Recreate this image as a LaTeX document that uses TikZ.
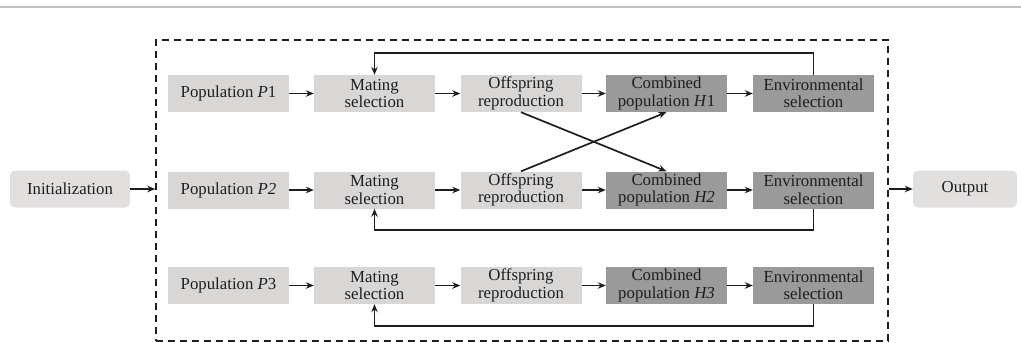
\documentclass[tikz,border=0pt]{standalone}
\usepackage{fontspec}
\setmainfont{Liberation Serif}
\usepackage{tikz}
\usetikzlibrary{arrows.meta,positioning}
\definecolor{boxlight}{RGB}{217,214,214}
\definecolor{boxdark}{RGB}{154,154,154}
\definecolor{boxend}{RGB}{226,223,223}
\definecolor{rulegray}{RGB}{192,192,192}
\definecolor{inkgray}{RGB}{30,30,30}

\begin{document}
\begin{tikzpicture}[
  x=1pt,y=-1pt,
  every node/.style={font=\fontsize{16.8}{17.5}\selectfont,text=inkgray},
  stage/.style={fill=boxlight,minimum width=121pt,minimum height=37pt,inner sep=0pt,align=center},
  merged/.style={stage,fill=boxdark},
  ends/.style={fill=boxend,rounded corners=5pt,minimum width=120pt,minimum height=37pt,inner sep=0pt},
  frame/.style={draw=inkgray,line width=1.5pt,dash pattern=on 7pt off 5pt,minimum width=732pt,minimum height=301pt,inner sep=0pt},
  arr/.style={-{Stealth[length=8pt,width=6.5pt]},line width=1.7pt,draw=inkgray}
]
\useasboundingbox (0,0) rectangle (1021,343);
\draw[rulegray,line width=1.5pt] (0,7) -- (1021,7);

\node[frame] (loop) at (522,190.5) {};
\node[ends] (init) at (70,189) {Initialization};
\node[ends,minimum width=104pt] (out) at (965,189) {Output};

% population 1
\node[stage] (p1) at (228.5,93.5) {Population \textit{P}1};
\node[stage] (ms1) at (374.5,93.5) {Mating\\selection};
\node[stage] (or1) at (521,93.5) {Offspring\\reproduction};
\node[merged] (cp1) at (666.5,93.5) {Combined\\population \textit{H}1};
\node[merged] (es1) at (813.5,93.5) {Environmental\\selection};

% population 2
\node[stage] (p2) at (228.5,190) {Population \textit{P2}};
\node[stage] (ms2) at (374.5,190) {Mating\\selection};
\node[stage] (or2) at (521,190) {Offspring\\reproduction};
\node[merged] (cp2) at (666.5,190) {Combined\\population \textit{H2}};
\node[merged] (es2) at (813.5,190) {Environmental\\selection};

% population 3
\node[stage] (p3) at (228.5,285.5) {Population \textit{P}3};
\node[stage] (ms3) at (374.5,285.5) {Mating\\selection};
\node[stage] (or3) at (521,285.5) {Offspring\\reproduction};
\node[merged] (cp3) at (666.5,285.5) {Combined\\population \textit{H3}};
\node[merged] (es3) at (813.5,285.5) {Environmental\\selection};

\draw[arr] (init.east) -- (init.east -| loop.west);
\draw[arr] (out.west -| loop.east) -- (out.west);

\draw[arr] (p1) -- (ms1);
\draw[arr] (ms1) -- (or1);
\draw[arr] (or1) -- (cp1);
\draw[arr] (cp1) -- (es1);
\draw[arr] (p2) -- (ms2);
\draw[arr] (ms2) -- (or2);
\draw[arr] (or2) -- (cp2);
\draw[arr] (cp2) -- (es2);
\draw[arr] (p3) -- (ms3);
\draw[arr] (ms3) -- (or3);
\draw[arr] (or3) -- (cp3);
\draw[arr] (cp3) -- (es3);

% exchange of offspring
\draw[arr] (or1.south) -- (cp2.north);
\draw[arr] (or2.north) -- (cp1.south);

% feedback
\draw[arr] (es1.north) -- ++(0,-22) -| (ms1.north);
\draw[arr] (es2.south) -- ++(0,21) -| (ms2.south);
\draw[arr] (es3.south) -- ++(0,22) -| (ms3.south);
\end{tikzpicture}
\end{document}
